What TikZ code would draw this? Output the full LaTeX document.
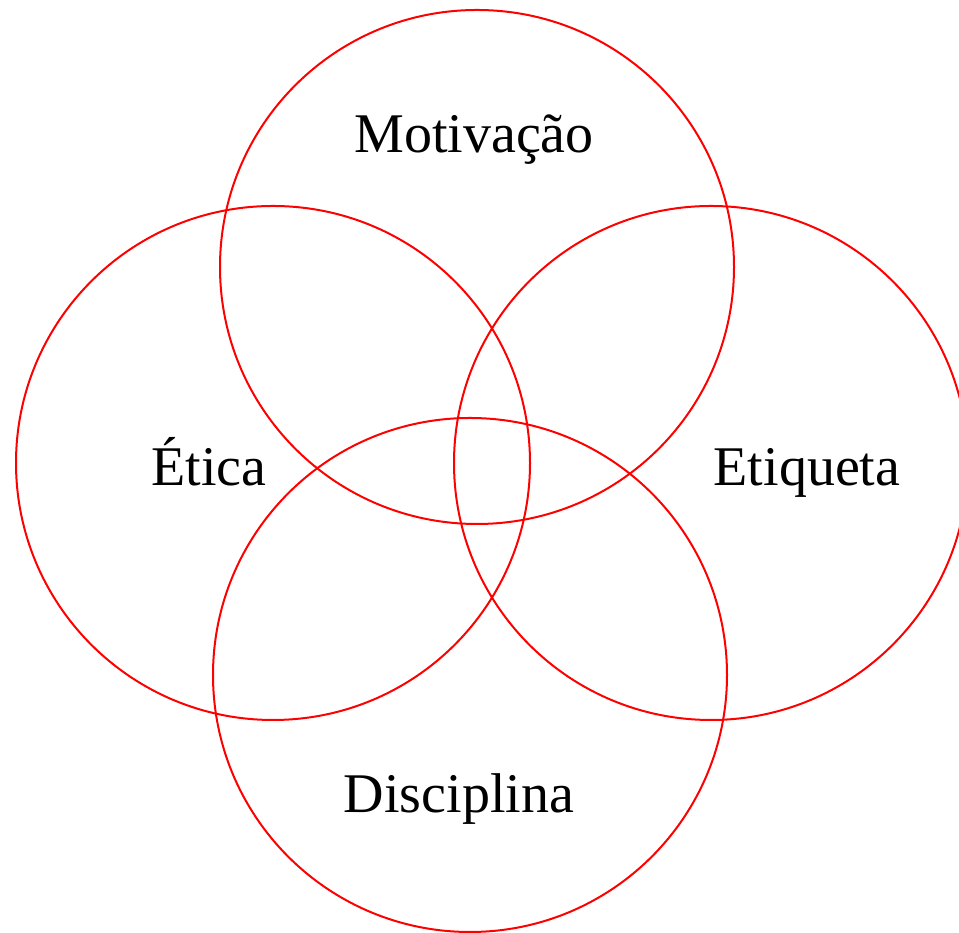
\documentclass[tikz,border=0pt]{standalone}
\usepackage{fontspec}
\setmainfont{Liberation Serif}
\begin{document}
\begin{tikzpicture}[x=1pt,y=1pt,
  ring/.style={draw=red, line width=2pt},
  lbl/.style={font=\fontsize{56}{62}\selectfont, anchor=base, inner sep=0pt}]
\useasboundingbox (0,0) rectangle (959,933);
\clip (0,0) rectangle (959,933);
\coordinate (ct) at (477,666);
\coordinate (cl) at (273,470);
\coordinate (cr) at (711,470);
\coordinate (cb) at (470,258);
\draw[ring] (ct) circle (257);
\draw[ring] (cl) circle (257);
\draw[ring] (cr) circle (257);
\draw[ring] (cb) circle (257);
\node[lbl] (mot) at (474,780) {Motivação};
\node[lbl] (eti) at (209,447) {Ética};
\node[lbl] (etq) at (807,447) {Etiqueta};
\node[lbl] (dis) at (459,120) {Disciplina};
\end{tikzpicture}
\end{document}
